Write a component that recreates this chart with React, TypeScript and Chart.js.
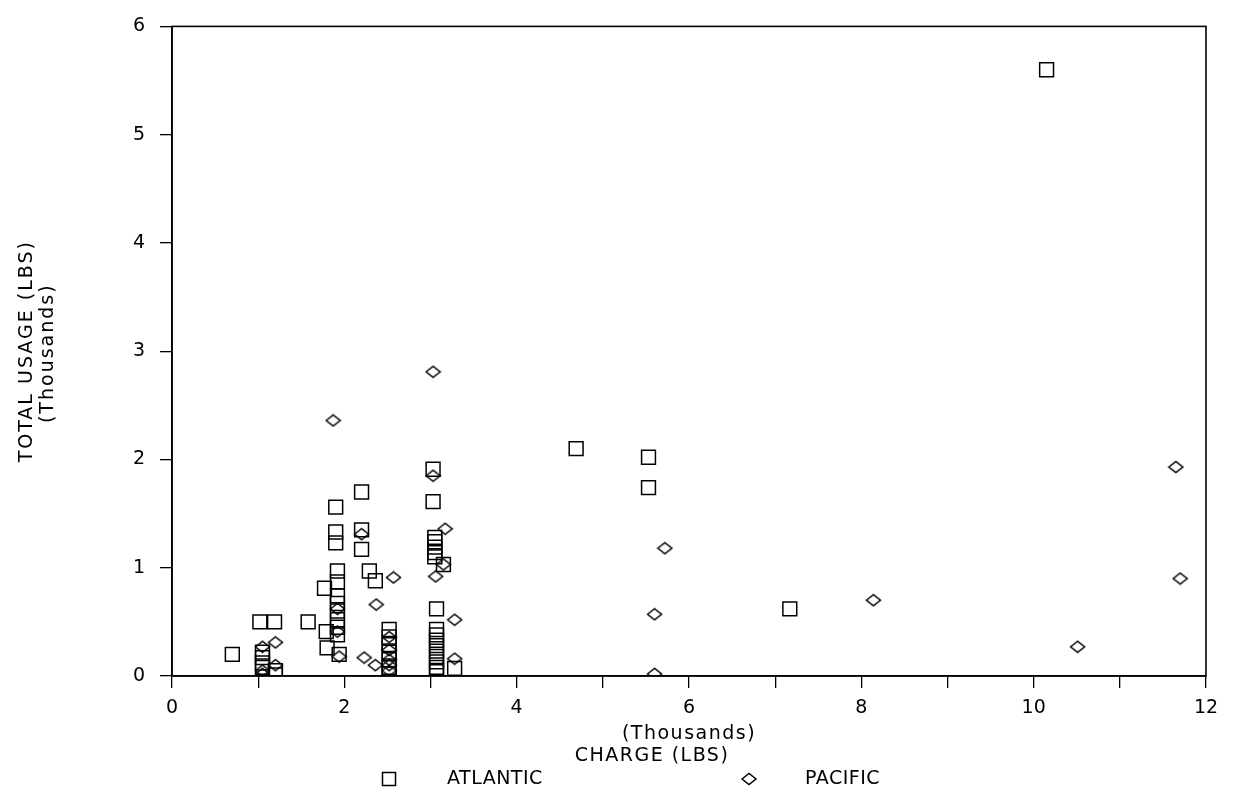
import React, { useEffect, useRef } from 'react';
import { Chart, registerables } from 'chart.js';

Chart.register(...registerables);

// ---- data (thousands of lbs) ----
const atlanticCharge = [
  0.7, 1.02, 1.19, 1.05, 1.05, 1.05, 1.05, 1.2, 1.2, 1.58,
  1.77, 1.79, 1.8, 1.9, 1.9, 1.9, 1.92, 1.92, 1.92, 1.92,
  1.92, 1.92, 1.92, 1.92, 1.94, 2.2, 2.2, 2.2, 2.29, 2.36,
  2.52, 2.52, 2.52, 2.52, 2.52, 2.52, 2.52, 3.03, 3.03, 3.05,
  3.05, 3.05, 3.05, 3.05, 3.15, 3.07, 3.07, 3.07, 3.07, 3.07,
  3.07, 3.07, 3.07, 3.07, 3.07, 3.28, 4.69, 5.53, 5.53, 7.17,
  10.15,
];
const atlanticUsage = [
  0.2, 0.5, 0.5, 0.22, 0.17, 0.12, 0.08, 0.05, 0.01, 0.5,
  0.81, 0.41, 0.26, 1.56, 1.33, 1.23, 0.97, 0.87, 0.74, 0.67,
  0.6, 0.52, 0.45, 0.38, 0.2, 1.7, 1.35, 1.17, 0.97, 0.88,
  0.43, 0.36, 0.29, 0.22, 0.15, 0.08, 0.02, 1.91, 1.61, 1.28,
  1.24, 1.19, 1.14, 1.1, 1.03, 0.62, 0.43, 0.38, 0.33, 0.28,
  0.23, 0.18, 0.13, 0.08, 0.04, 0.07, 2.1, 2.02, 1.74, 0.62,
  5.6,
];
const pacificCharge = [
  1.05, 1.05, 1.05, 1.2, 1.2, 1.87, 1.92, 1.92, 1.94, 2.2,
  2.23, 2.36, 2.37, 2.57, 2.52, 2.52, 2.52, 2.52, 2.52, 3.03,
  3.03, 3.17, 3.15, 3.06, 3.28, 3.28, 5.6, 5.6, 5.72, 8.14,
  10.51, 11.65, 11.7,
];
const pacificUsage = [
  0.27, 0.05, 0.02, 0.31, 0.1, 2.36, 0.62, 0.41, 0.18, 1.31,
  0.17, 0.1, 0.66, 0.91, 0.36, 0.24, 0.15, 0.1, 0.05, 2.81,
  1.85, 1.36, 1.03, 0.92, 0.52, 0.16, 0.57, 0.02, 1.18, 0.7,
  0.27, 1.93, 0.9,
];

const seriesNames = ['ATLANTIC', 'PACIFIC'];
const xTitleLines = ['(Thousands)', 'CHARGE (LBS)'];
const yTitleLines = ['TOTAL USAGE (LBS)', '(Thousands)'];
const xRange = [0, 12];
const yRange = [0, 6];

const FONT = '"DejaVu Sans", "Liberation Sans", sans-serif';

const decorPlugin = {
  id: 'decor',
  afterDraw(chart: any) {
    const { ctx, chartArea } = chart;
    const { left, right, top, bottom } = chartArea;
    ctx.save();
    ctx.strokeStyle = '#000';
    ctx.lineWidth = 1.6;
    ctx.strokeRect(left, top, right - left, bottom - top);

    ctx.fillStyle = '#000';
    ctx.font = `19px ${FONT}`;
    ctx.textBaseline = 'middle';
    ctx.textAlign = 'center';
    (ctx as any).letterSpacing = '1.5px';
    const cx = (left + right) / 2;
    ctx.fillText(xTitleLines[0], cx, bottom + 58);
    ctx.fillText(xTitleLines[1], cx - 37, bottom + 80);

    // y title (rotated)
    (ctx as any).letterSpacing = '2px';
    ctx.save();
    ctx.translate(27, (top + bottom) / 2);
    ctx.rotate(-Math.PI / 2);
    ctx.fillText(yTitleLines[0], 0, 0);
    ctx.restore();
    ctx.save();
    ctx.translate(48, (top + bottom) / 2 + 2);
    ctx.rotate(-Math.PI / 2);
    ctx.fillText(yTitleLines[1], 0, 0);
    ctx.restore();

    // legend
    (ctx as any).letterSpacing = '0.5px';
    const ly = bottom + 103;
    ctx.lineWidth = 1.5;
    ctx.strokeRect(389 - 6.5, ly - 6.5, 13, 13);
    ctx.beginPath();
    ctx.moveTo(749 - 7, ly);
    ctx.lineTo(749, ly - 5.5);
    ctx.lineTo(749 + 7, ly);
    ctx.lineTo(749, ly + 5.5);
    ctx.closePath();
    ctx.stroke();
    ctx.textAlign = 'left';
    ctx.fillText(seriesNames[0], 447, ly);
    ctx.fillText(seriesNames[1], 805, ly);
    ctx.restore();
  },
};

function makeDiamond(): HTMLCanvasElement {
  const c = document.createElement('canvas');
  c.width = 17;
  c.height = 14;
  const g = c.getContext('2d')!;
  g.strokeStyle = '#000';
  g.lineWidth = 1.5;
  g.beginPath();
  g.moveTo(1.5, 7);
  g.lineTo(8.5, 1.5);
  g.lineTo(15.5, 7);
  g.lineTo(8.5, 12.5);
  g.closePath();
  g.stroke();
  return c;
}

export default function App() {
  const ref = useRef<HTMLCanvasElement | null>(null);
  useEffect(() => {
    document.body.style.margin = '0';
    const canvas = ref.current!;
    const diamond = makeDiamond();
    const chart = new Chart(canvas, {
      type: 'scatter',
      data: {
        datasets: [
          {
            label: seriesNames[0],
            data: atlanticCharge.map((x, i) => ({ x, y: atlanticUsage[i] })),
            pointStyle: 'rect',
            pointRadius: 9.8,
            borderColor: '#000',
            backgroundColor: 'rgba(0,0,0,0)',
            borderWidth: 1.5,
          },
          {
            label: seriesNames[1],
            data: pacificCharge.map((x, i) => ({ x, y: pacificUsage[i] })),
            pointStyle: diamond as any,
            pointRadius: 7,
            borderColor: '#000',
            backgroundColor: 'rgba(0,0,0,0)',
            borderWidth: 1.5,
          },
        ],
      },
      options: {
        responsive: false,
        animation: false,
        layout: { padding: { left: 132, right: 27, top: 23, bottom: 68 } },
        plugins: {
          legend: { display: false },
          tooltip: { enabled: false },
        },
        scales: {
          x: {
            type: 'linear',
            min: xRange[0],
            max: xRange[1],
            afterFit: (s: any) => { s.height = 50; },
            border: { display: true, color: '#000', width: 1.6 },
            grid: {
              drawOnChartArea: false,
              drawTicks: true,
              tickLength: 12,
              color: '#000',
              lineWidth: 1.3,
            },
            ticks: {
              stepSize: 1,
              padding: 9,
              color: '#000',
              font: { family: FONT, size: 19 },
              maxRotation: 0,
              autoSkip: false,
              callback: (v: any) => (Number(v) % 2 === 0 ? String(v) : ''),
            },
          },
          y: {
            type: 'linear',
            min: yRange[0],
            max: yRange[1],
            afterFit: (s: any) => { s.width = 40; },
            border: { display: true, color: '#000', width: 1.6 },
            grid: {
              drawOnChartArea: false,
              drawTicks: true,
              tickLength: 12,
              color: '#000',
              lineWidth: 1.3,
            },
            ticks: {
              stepSize: 1,
              padding: 15,
              color: '#000',
              font: { family: FONT, size: 19 },
            },
          },
        },
      },
      plugins: [decorPlugin],
    });
    return () => chart.destroy();
  }, []);
  return (
    <div style={{ width: 1233, height: 794, background: '#fff' }}>
      <canvas ref={ref} width={1233} height={794} />
    </div>
  );
}
